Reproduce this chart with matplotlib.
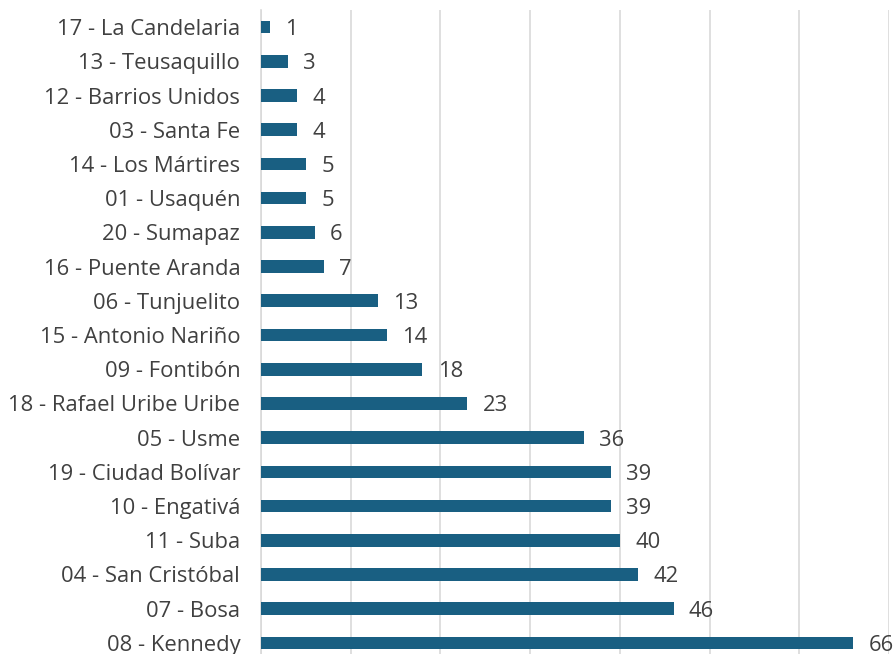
import matplotlib
matplotlib.use("Agg")
import matplotlib.pyplot as plt

categories = ["17 - La Candelaria", "13 - Teusaquillo", "12 - Barrios Unidos", "03 - Santa Fe",
              "14 - Los Mártires", "01 - Usaquén", "20 - Sumapaz", "16 - Puente Aranda",
              "06 - Tunjuelito", "15 - Antonio Nariño", "09 - Fontibón", "18 - Rafael Uribe Uribe",
              "05 - Usme", "19 - Ciudad Bolívar", "10 - Engativá", "11 - Suba",
              "04 - San Cristóbal", "07 - Bosa", "08 - Kennedy"]
values = [1, 3, 4, 4, 5, 5, 6, 7, 13, 14, 18, 23, 36, 39, 39, 40, 42, 46, 66]

plt.rcParams['font.family'] = ['Open Sans', 'DejaVu Sans']
W, H = 896, 654
fig = plt.figure(figsize=(W/100, H/100), dpi=100)
ax = fig.add_axes([261/W, -6/H, 628/W, 650/H])

ypos = list(range(len(categories)))
ax.barh(ypos, values, height=0.37, color="#195f82", zorder=3)
ax.set_ylim(len(categories) - 0.5, -0.5)
ax.set_xlim(0, 70)
ax.set_xticks(range(0, 71, 10))
ax.xaxis.grid(True, color="#d9d9d9", linewidth=1.2, zorder=0)
ax.tick_params(axis="x", length=0, labelbottom=False)
ax.tick_params(axis="y", length=0, pad=15, labelsize=15.8, labelcolor="#404040")
ax.set_yticks(ypos)
ax.set_yticklabels(categories, va="center_baseline")
for s in ["top", "right", "bottom"]:
    ax.spines[s].set_visible(False)
ax.spines["left"].set_color("#d9d9d9")
ax.spines["left"].set_linewidth(1.2)

for y, v in zip(ypos, values):
    ax.annotate(str(v), (v, y), xytext=(11, 0), textcoords="offset points",
                va="center_baseline", ha="left", fontsize=15.8, color="#404040")

fig.savefig("out.png", dpi=100)
